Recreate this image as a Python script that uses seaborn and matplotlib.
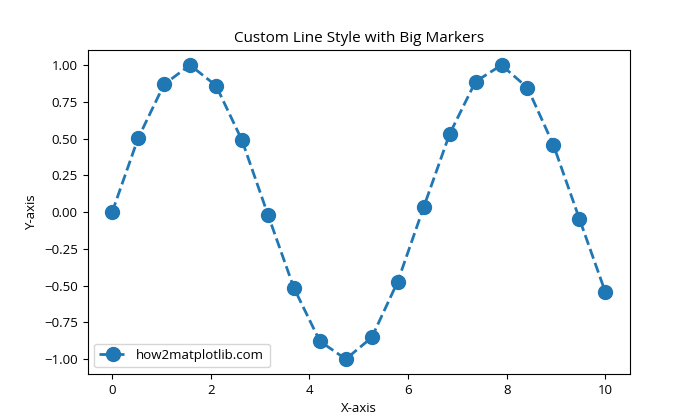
import matplotlib
matplotlib.use("Agg")
import matplotlib.pyplot as plt
import seaborn as sns
import pandas as pd

x_vals = [0.0, 0.526, 1.053, 1.579, 2.105, 2.632, 3.158, 3.684, 4.211, 4.737,
          5.263, 5.789, 6.316, 6.842, 7.368, 7.895, 8.421, 8.947, 9.474, 10.0]
y_vals = [0.0, 0.502, 0.869, 1.0, 0.861, 0.489, -0.017, -0.515, -0.878, -1.0,
          -0.853, -0.474, 0.033, 0.531, 0.888, 1.0, 0.846, 0.457, -0.046, -0.544]
series_label = "how2matplotlib.com"

plt.rcParams['font.family'] = ['Open Sans', 'DejaVu Sans']
plt.rcParams['font.size'] = 9.5

df = pd.DataFrame({"x": x_vals, "y": y_vals})

fig, ax = plt.subplots(figsize=(7, 4.2), dpi=100)
sns.lineplot(data=df, x="x", y="y", ax=ax, color="#1f77b4", linestyle="--",
             linewidth=2, marker="o", markersize=10, markeredgewidth=1,
             markeredgecolor="#1f77b4", label=series_label)
ax.set_title("Custom Line Style with Big Markers", fontsize=11)
ax.set_xlabel("X-axis")
ax.set_ylabel("Y-axis")
ax.legend(loc="lower left")
fig.savefig("out.png", dpi=100)
